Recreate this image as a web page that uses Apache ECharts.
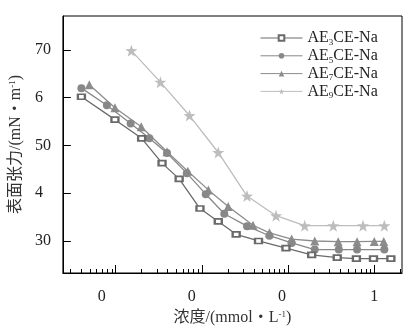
<!DOCTYPE html>
<html><head><meta charset="utf-8">
<script src="https://cdn.jsdelivr.net/npm/echarts@6/dist/echarts.min.js"></script>
<style>html,body{margin:0;padding:0;background:#fff}#c{width:413px;height:333px}</style>
</head><body><div id="c"></div>
<script>
// ---- data ----
const seriesNames = ['AE3CE-Na', 'AE5CE-Na', 'AE7CE-Na', 'AE9CE-Na'];
const ae3X = [0.0004, 0.00098, 0.002, 0.00345, 0.00545, 0.0095, 0.0155, 0.025, 0.0454, 0.0946, 0.188, 0.372, 0.621, 0.98, 1.56];
const ae3Y = [60.2, 55.4, 51.5, 46.3, 43.0, 36.8, 34.1, 31.4, 30.0, 28.5, 27.1, 26.5, 26.3, 26.3, 26.3];
const ae5X = [0.0004, 0.00079, 0.00149, 0.00246, 0.00394, 0.00668, 0.0111, 0.0182, 0.0334, 0.0608, 0.11, 0.204, 0.388, 0.632, 1.31];
const ae5Y = [62.0, 58.4, 54.6, 51.5, 48.4, 44.2, 39.8, 35.7, 33.1, 31.1, 29.6, 28.2, 28.2, 28.2, 28.2];
const ae7X = [0.000494, 0.00098, 0.00198, 0.00394, 0.00687, 0.0119, 0.0202, 0.0392, 0.0608, 0.11, 0.204, 0.382, 0.632, 1.0, 1.29];
const ae7Y = [62.7, 57.9, 53.9, 48.7, 44.6, 40.7, 37.2, 33.3, 31.7, 30.4, 30.0, 29.85, 29.85, 29.9, 29.9];
const ae9X = [0.00152, 0.0033, 0.00718, 0.0155, 0.0334, 0.0726, 0.156, 0.335, 0.741, 1.31];
const ae9Y = [69.85, 63.25, 56.26, 48.53, 39.41, 35.3, 33.2, 33.2, 33.2, 33.2];

const xTickValues = [0.001, 0.01, 0.1, 1];
const xTickLabels = ['0.001', '0.01', '0.1', '1'];
const xMinorTicks = [0.0003, 0.0004, 0.0005, 0.0006, 0.0007, 0.0008, 0.0009,
  0.002, 0.003, 0.004, 0.005, 0.006, 0.007, 0.008, 0.009,
  0.02, 0.03, 0.04, 0.05, 0.06, 0.07, 0.08, 0.09,
  0.2, 0.3, 0.4, 0.5, 0.6, 0.7, 0.8, 0.9, 2];
const yTickValues = [30, 40, 50, 60, 70];
const yTickLabels = ['30', '40', '50', '60', '70'];
const yOverlapped = ['40', '60'];
const xName = '{n|浓度/(mmol・L}{sup|-1}{n|)}';
const yName = '{n|表面张力/(mN・m}{sup|-1}{n|)}';

// ---- styling helpers ----
const FONT = '"Liberation Serif", "Times New Roman", "Noto Sans CJK SC", serif';
const LABEL_SIZE = 16;
const cv = document.createElement('canvas').getContext('2d');
cv.font = LABEL_SIZE + 'px "Liberation Serif"';
function restWidth(s) { return cv.measureText(s.slice(1)).width; }

// tick labels: glyphs printed on top of each other in the reference
const xRich = {};
xTickLabels.forEach((s, i) => {
  xRich['x' + i] = { fontSize: LABEL_SIZE, fontFamily: FONT, color: '#222', padding: [0, restWidth(s), 0, 0] };
});
const yRich = {};
yTickLabels.forEach((s, i) => {
  const ov = yOverlapped.indexOf(s) >= 0;
  yRich['y' + i] = { fontSize: LABEL_SIZE, fontFamily: FONT, color: '#222', padding: [0, ov ? restWidth(s) : 0, 0, 0] };
});
function nearestIdx(arr, v, log) {
  let best = 0, bd = Infinity;
  arr.forEach((a, i) => { const d = log ? Math.abs(Math.log10(a) - Math.log10(v)) : Math.abs(a - v); if (d < bd) { bd = d; best = i; } });
  return best;
}
const nameRich = {
  n: { fontFamily: FONT, fontSize: 16, color: '#333' },
  sup: { fontFamily: FONT, fontSize: 9, color: '#333', verticalAlign: 'top', lineHeight: 9 }
};

const colors = ['#6a6a6a', '#888888', '#8c8c8c', '#bdbdbd'];
const symbols = ['emptyRect', 'circle', 'triangle', 'path://M0,-10L2.35,-3.24L9.51,-3.09L3.8,1.24L5.88,8.09L0,4L-5.88,8.09L-3.8,1.24L-9.51,-3.09L-2.35,-3.24Z'];
const symbolSizes = [[7, 5], 8, 9, 12];
const xs = [ae3X, ae5X, ae7X, ae9X];
const ys = [ae3Y, ae5Y, ae7Y, ae9Y];

const series = seriesNames.map((n, k) => ({
  name: n, type: 'line', xAxisIndex: 0, yAxisIndex: 0,
  data: xs[k].map((x, i) => [x, ys[k][i]]),
  symbol: symbols[k], symbolSize: symbolSizes[k],
  color: colors[k],
  lineStyle: { width: 1.3, color: colors[k] },
  itemStyle: k === 0 ? { borderWidth: 1.3 } : {},
  z: 10 - k,
  animation: false
}));

const chart = echarts.init(document.getElementById('c'), null, { renderer: 'canvas' });
chart.setOption({
  animation: false,
  backgroundColor: '#fff',
  grid: { left: 60, right: 11, top: 16, bottom: 60, show: true, borderColor: '#000', borderWidth: 1, containLabel: false },
  legend: {
    orient: 'vertical', left: 255, top: 25,
    itemWidth: 42, itemHeight: 7, itemGap: 0.8,
    lineStyle: { width: 1 },
    data: seriesNames,
    textStyle: {
      fontFamily: FONT, fontSize: 16, color: '#222',
      rich: {
        m: { fontFamily: FONT, fontSize: 16, color: '#222', lineHeight: 18 },
        sub: { fontFamily: FONT, fontSize: 9, color: '#222', lineHeight: 9, verticalAlign: 'bottom' }
      }
    },
    formatter: n => '{m|AE}{sub|' + n.charAt(2) + '}{m|' + n.slice(3) + '}'
  },
  xAxis: [{
    type: 'log', logBase: 10, min: 0.000244, max: 2.1,
    axisLine: { show: true, lineStyle: { color: '#000', width: 1 } },
    axisTick: { show: true, inside: true, length: 8, customValues: xTickValues, lineStyle: { color: '#000' } },
    minorTick: { show: false },
    splitLine: { show: false },
    axisLabel: {
      customValues: xTickValues, margin: 16,
      formatter: v => { const i = nearestIdx(xTickValues, v, true); return '{x' + i + '|' + xTickLabels[i].charAt(0) + '}'; },
      rich: xRich
    },
    name: xName, nameLocation: 'middle', nameGap: 27,
    nameTextStyle: { fontFamily: FONT, fontSize: 16, color: '#333', rich: nameRich }
  }, {
    type: 'log', logBase: 10, min: 0.000244, max: 2.1, gridIndex: 0, position: 'bottom',
    axisLine: { show: false },
    axisTick: { show: true, inside: true, length: 4, customValues: xMinorTicks, lineStyle: { color: '#000' } },
    axisLabel: { show: false },
    splitLine: { show: false }
  }],
  yAxis: [{
    type: 'value', min: 23.3, max: 77.1,
    axisLine: { show: true, lineStyle: { color: '#000', width: 1 } },
    axisTick: { show: true, inside: true, length: 8, customValues: yTickValues, lineStyle: { color: '#000' } },
    splitLine: { show: false },
    axisLabel: {
      customValues: yTickValues, margin: 12,
      formatter: v => { const i = nearestIdx(yTickValues, v, false); const s = yTickLabels[i]; const ov = yOverlapped.indexOf(s) >= 0; return '{y' + i + '|' + (ov ? s.charAt(0) : s) + '}'; },
      rich: yRich
    },
    name: yName, nameLocation: 'middle', nameGap: 32,
    nameTextStyle: { fontFamily: FONT, fontSize: 16, color: '#333', rich: nameRich }
  }],
  series: series
});
</script>
</body></html>
